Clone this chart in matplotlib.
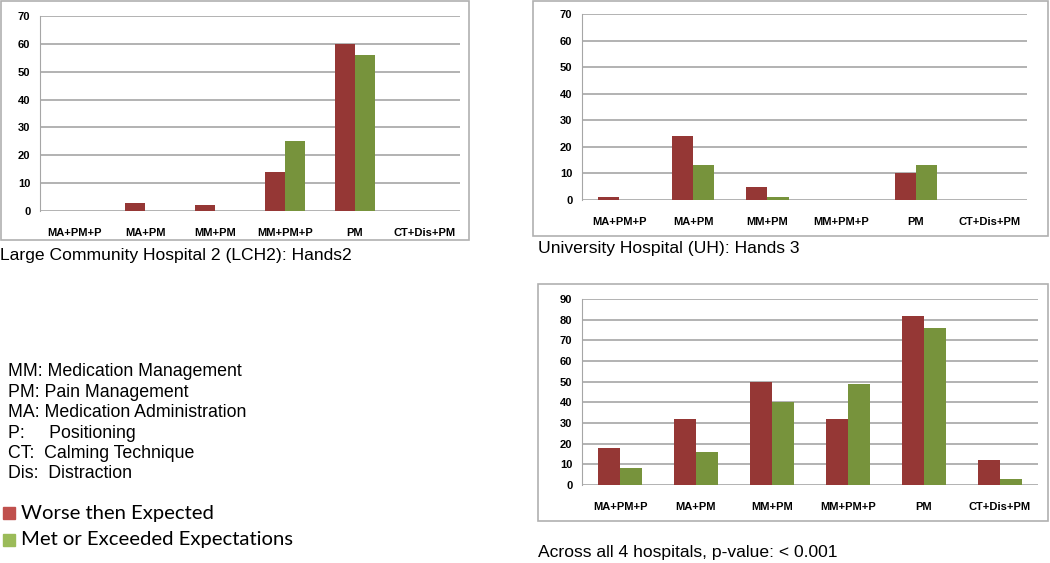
import matplotlib
matplotlib.use("Agg")
import matplotlib.pyplot as plt
from matplotlib.patches import Rectangle
import numpy as np

categories = ["MA+PM+P", "MA+PM", "MM+PM", "MM+PM+P", "PM", "CT+Dis+PM"]

lch2_worse = [0, 3, 2, 14, 60, 0]
lch2_met = [0, 0, 0, 25, 56, 0]

uh_worse = [1, 24, 5, 0, 10, 0]
uh_met = [0, 13, 1, 0, 13, 0]

all_worse = [18, 32, 50, 32, 82, 12]
all_met = [8, 16, 40, 49, 76, 3]

abbrev = [("MM:", "Medication Management"),
          ("PM:", "Pain Management"),
          ("MA:", "Medication Administration"),
          ("P:", "Positioning"),
          ("CT:", "Calming Technique"),
          ("Dis:", "Distraction")]
legend_labels = ["Worse then Expected", "Met or Exceeded Expectations"]

RED = "#953735"
GREEN = "#77933C"
W, H = 1050, 563

fig = plt.figure(figsize=(W / 100, H / 100), dpi=100)


def px_axes(x0, y0, x1, y1):
    # pixel box (top-left origin) -> figure axes
    return fig.add_axes([x0 / W, 1 - y1 / H, (x1 - x0) / W, (y1 - y0) / H])


def px_box(x0, y0, x1, y1):
    fig.patches.append(Rectangle((x0 / W, 1 - y1 / H), (x1 - x0) / W, (y1 - y0) / H,
                                 transform=fig.transFigure, fill=False,
                                 edgecolor="#b0b0b0", linewidth=1.2))


def panel(box, area, worse, met, ymax, step, caption, cap_xy):
    px_box(*box)
    ax = px_axes(*area)
    x = np.arange(len(categories))
    bw = 0.285
    ax.bar(x - bw / 2, worse, bw, color=RED, zorder=3)
    ax.bar(x + bw / 2, met, bw, color=GREEN, zorder=3)
    ax.set_xlim(-0.5, len(categories) - 0.5)
    ax.set_ylim(0, ymax)
    yt = np.arange(0, ymax + 1, step)
    ax.set_yticks(yt)
    ax.set_yticklabels([str(v) for v in yt], fontweight="bold",
                       family="Liberation Sans", fontsize=8)
    ax.set_xticks(x)
    ax.set_xticklabels(categories, fontweight="bold",
                       family="Liberation Sans", fontsize=8)
    ax.yaxis.grid(True, color="#a6a6a6", linewidth=1.2, zorder=0)
    for s in ["top", "right", "bottom"]:
        ax.spines[s].set_visible(False)
    ax.spines["left"].set_color("#a6a6a6")
    ax.tick_params(length=0, pad=7)
    ax.tick_params(axis="x", pad=12)
    fig.text(cap_xy[0] / W, 1 - cap_xy[1] / H, caption, fontsize=12.6,
             family="Liberation Sans", va="center", ha="left")


panel((1, 1, 469, 240), (40, 16, 460, 211), lch2_worse, lch2_met, 70, 10,
      "Large Community Hospital 2 (LCH2): Hands2", (0, 255))
panel((533, 1, 1048, 236), (582, 14, 1027, 200), uh_worse, uh_met, 70, 10,
      "University Hospital (UH): Hands 3", (538, 249))
panel((538, 284, 1048, 521), (582, 299, 1038, 485), all_worse, all_met, 90, 10,
      "Across all 4 hospitals, p-value: < 0.001", (538, 553))

for i, (k, v) in enumerate(abbrev):
    y = 1 - (372 + i * 20.4) / H
    if k == "P:":
        txt = k + "     " + v
    elif k in ("CT:", "Dis:"):
        txt = k + "  " + v
    else:
        txt = k + " " + v
    fig.text(8 / W, y, txt, fontsize=12.8, family="Liberation Sans", va="center")

for i, (lab, c) in enumerate(zip(legend_labels, ["#c0504d", "#9bbb59"])):
    yc = 513 + i * 27
    fig.patches.append(Rectangle((3 / W, 1 - (yc + 6) / H), 12 / W, 12 / H,
                                 transform=fig.transFigure, color=c))
    fig.text(21 / W, 1 - yc / H, lab, fontsize=14.6, family="Lato", va="center")

fig.savefig("out.png", dpi=100)
